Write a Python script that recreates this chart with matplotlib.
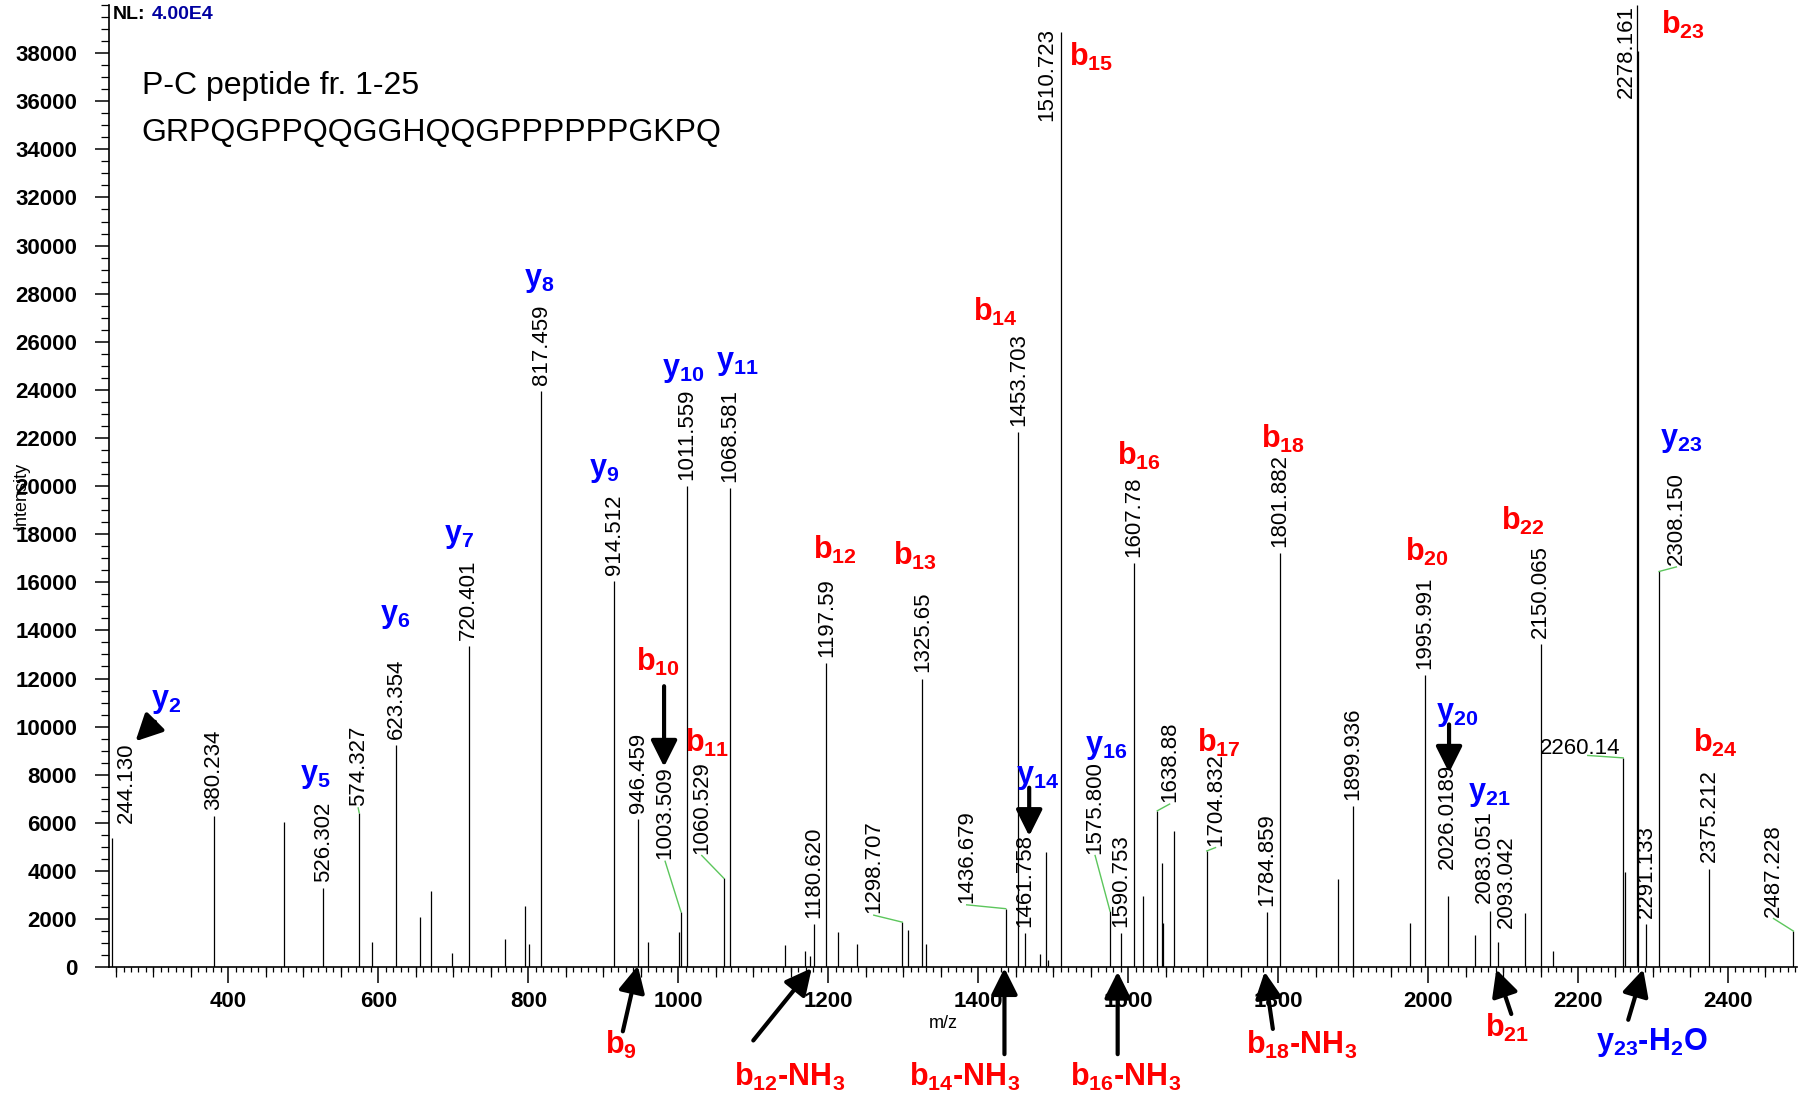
import re
import matplotlib
matplotlib.use("Agg")
import matplotlib.pyplot as plt
from matplotlib.ticker import MultipleLocator, FixedLocator, NullFormatter

plt.rcParams['font.family'] = ['Liberation Sans', 'DejaVu Sans']
plt.rcParams['mathtext.fontset'] = 'custom'
plt.rcParams['mathtext.rm'] = 'Liberation Sans'
plt.rcParams['mathtext.bf'] = 'Liberation Sans:bold'
plt.rcParams['mathtext.it'] = 'Liberation Sans:italic'
plt.rcParams['mathtext.sf'] = 'Liberation Sans'

# ---------------- data ----------------
labeled_mz = ["244.130", "380.234", "526.302", "574.327", "623.354", "720.401",
              "817.459", "914.512", "946.459", "1003.509", "1011.559", "1060.529",
              "1068.581", "1180.620", "1197.59", "1298.707", "1325.65", "1436.679",
              "1453.703", "1461.758", "1510.723", "1575.800", "1590.753", "1607.78",
              "1638.88", "1704.832", "1784.859", "1801.882", "1899.936", "1995.991",
              "2026.0189", "2083.051", "2093.042", "2150.065", "2260.14", "2278.161",
              "2291.133", "2308.150", "2375.212", "2487.228"]
labeled_int = [5350, 6280, 3300, 6420, 9250, 13350,
               23950, 16050, 6140, 2300, 20000, 3700,
               19900, 1800, 12650, 1870, 12000, 2430,
               22250, 1400, 38880, 2330, 1400, 16800,
               6500, 4830, 2280, 17200, 6680, 12150,
               2940, 2340, 1060, 13450, 8700, 40000,
               1800, 16450, 4100, 1500]

other_mz = [474.6, 590.9, 655.1, 670.4, 697.9, 768.3, 795.8, 800.4, 959.5,
            1001.0, 1142.8, 1168.8, 1176.0, 1213.3, 1237.8, 1306.6, 1331.0,
            1482.5, 1490.0, 1492.5, 1620.0, 1644.5, 1646.5, 1661.5, 1880.3,
            1976.5, 2062.3, 2129.5, 2166.5, 2263.0, 2279.4]
other_int = [6020, 1050, 2100, 3150, 600, 1180, 2550, 950, 1050,
             1450, 900, 650, 450, 1480, 950, 1550, 950,
             550, 4780, 300, 2940, 4340, 1820, 5650, 3670,
             1850, 1340, 2230, 650, 3950, 38100]

# ion annotations (name, m/z position, intensity position)
ion_names = ["y2", "y5", "y6", "y7", "y8", "y9", "y10", "y11", "b10", "b11",
             "b12", "b13", "b14", "b15", "y14", "y16", "b16", "b17", "b18",
             "b20", "b22", "y20", "y21", "b23", "y23", "b24",
             "b9", "b12-NH3", "b14-NH3", "b16-NH3", "b18-NH3", "b21", "y23-H2O"]
ion_x = [317, 516, 623, 707, 814, 901, 1007, 1079, 973, 1039,
         1209, 1316, 1423, 1550, 1479, 1570, 1614, 1721, 1807,
         1998, 2126, 2039, 2081, 2340, 2337, 2383,
         923, 1148, 1382, 1596, 1831, 2105, 2298]
ion_y = [11050, 7950, 14580, 17910, 28580, 20680, 24820, 25110, 12670, 9340,
         17340, 17100, 27250, 37830, 7910, 9150, 21250, 9340, 21960,
         17250, 18530, 10530, 7190, 39160, 21910, 9340,
         -3240, -4570, -4570, -4570, -3240, -2520, -3140]

# arrows: (tail m/z, tail int, tip m/z, tip int)
arrow_tail_x = [302, 981, 1468, 2028, 926, 1100, 1435, 1586, 1793, 2111, 2267]
arrow_tail_y = [10200, 11680, 7460, 10090, -2670, -3050, -3620, -3620, -2570, -1950, -2190]
arrow_tip_x = [276, 981, 1468, 2028, 946, 1178, 1435, 1586, 1782, 2091, 2287]
arrow_tip_y = [9390, 8330, 5450, 8080, 60, -40, -40, -190, -190, -90, -90]

# ---------------- figure ----------------
fig = plt.figure(figsize=(17.98, 11.0), dpi=100)
ax = fig.add_axes([0.0606, 0.1208, 0.9391, 0.8746])

mz_lab = [float(s) for s in labeled_mz]
ax.vlines(mz_lab + other_mz, 0, labeled_int + other_int, color='black', lw=0.9)

ax.set_xlim(240.6, 2492.7)
ax.set_ylim(0, 40000)
for sp in ['top', 'right']:
    ax.spines[sp].set_visible(False)
ax.spines['left'].set_linewidth(1.2)
ax.spines['bottom'].set_linewidth(1.2)

ax.xaxis.set_major_locator(MultipleLocator(200))
ax.xaxis.set_minor_locator(MultipleLocator(10))
ax.yaxis.set_major_locator(FixedLocator(list(range(0, 40000, 2000))))
ax.yaxis.set_minor_locator(MultipleLocator(500))
ax.tick_params(axis='x', which='major', length=11.5, width=1.1, pad=6, labelsize=16)
ax.tick_params(axis='x', which='minor', length=3.3, width=0.9)
ax.tick_params(axis='y', which='major', length=10, width=1.1, pad=13, labelsize=16)
ax.tick_params(axis='y', which='minor', length=6, width=0.9)
for lab in ax.get_xticklabels() + ax.get_yticklabels():
    lab.set_fontweight('bold')

# medium x ticks every 50
sec = ax.secondary_xaxis('bottom')
med = [v for v in range(250, 2500, 50) if v % 200 != 0]
sec.xaxis.set_major_locator(FixedLocator(med))
sec.xaxis.set_major_formatter(NullFormatter())
sec.tick_params(axis='x', length=6.9, width=0.9)
sec.spines['bottom'].set_visible(False)

# peak labels
green = '#5cc65c'
LFS = 16
overrides = {
    "244.130": (263.7, 6000, False),
    "574.327": (573.0, 6700, True),
    "1003.509": (982.4, 4480, True),
    "1060.529": (1031.3, 4720, True),
    "1298.707": (1260.7, 2240, True),
    "1436.679": (1384.6, 2670, True),
    "1575.800": (1555.9, 4720, True),
    "1638.88": (1655.3, 6860, True),
    "1704.832": (1716.5, 5050, True),
    "2308.150": (2331.2, 16720, True),
    "2487.228": (2460.8, 2100, True),
    "2026.0189": (2026.0189, 4100, False),
    "2083.051": (2075.0, 2670, False),
    "2093.042": (2104.0, 1620, False),
    "1510.723": (1491.6, 35200, False),
    "2278.161": (2264.0, 36150, False),
}
for s, m, h in zip(labeled_mz, mz_lab, labeled_int):
    if s == "2260.14":
        ax.text(2149.6, 9100, s, ha='left', va='center', fontsize=LFS)
        ax.plot([2213, m], [8800, h], color=green, lw=1)
        continue
    if s in overrides:
        lx, ly, conn = overrides[s]
        ax.text(lx, ly, s, rotation=90, ha='center', va='bottom', fontsize=LFS)
        if conn:
            ax.plot([lx, m], [ly - 80, h], color=green, lw=1)
    else:
        ax.text(m, h + 250, s, rotation=90, ha='center', va='bottom', fontsize=LFS)


def ion_tex(name):
    parts = name.split('-')
    base = parts[0]
    out = r"$\mathbf{%s_{%s}}$" % (base[0], base[1:])
    if len(parts) > 1:
        loss = re.sub(r"(\d)", r"$_{\\mathbf{\1}}$", parts[1])
        out += "-" + loss
    return out


for n, x, y in zip(ion_names, ion_x, ion_y):
    col = '#ff0000' if n.startswith('b') else '#0000ff'
    ax.text(x, y, ion_tex(n), color=col, fontsize=22, fontweight='bold',
            ha='center', va='center', clip_on=False)

for tx, ty, hx, hy in zip(arrow_tail_x, arrow_tail_y, arrow_tip_x, arrow_tip_y):
    ax.annotate('', xy=(hx, hy), xytext=(tx, ty),
                arrowprops=dict(arrowstyle='-|>,head_length=0.8,head_width=0.4',
                                lw=3, color='black', shrinkA=0, shrinkB=0,
                                mutation_scale=20),
                annotation_clip=False)

# header texts
t1 = ax.text(0.0022, 0.9905, "NL:", transform=ax.transAxes, fontsize=14,
             fontweight='bold', ha='left', va='center')
ax.annotate("4.00E4", xy=(1, 0), xycoords=t1, xytext=(5, 0),
            textcoords='offset points', fontsize=14, fontweight='bold',
            color='#0000a0', ha='left', va='bottom')
ax.text(0.0194, 0.9159, "P-C peptide fr. 1-25", transform=ax.transAxes,
        fontsize=23, ha='left', va='center')
ax.text(0.0194, 0.8671, "GRPQGPPQQGGHQQGPPPPPPGKPQ", transform=ax.transAxes,
        fontsize=23, ha='left', va='center')

ax.text(0.4944, -0.0584, "m/z", transform=ax.transAxes, fontsize=13,
        ha='center', va='center')
ax.text(-0.0523, 0.4907, "Intensity", transform=ax.transAxes, fontsize=13,
        rotation=90, ha='center', va='center')

fig.savefig("out.png", dpi=100)
